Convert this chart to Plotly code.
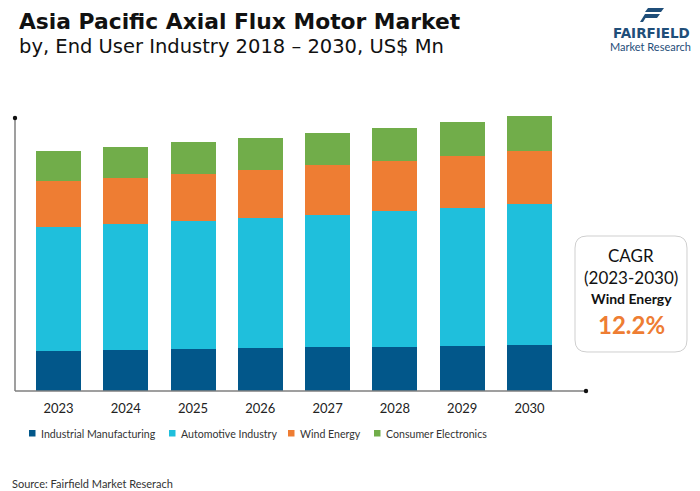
import plotly.graph_objects as go

years = ["2023", "2024", "2025", "2026", "2027", "2028", "2029", "2030"]
industrial = [40, 41, 42, 43, 44, 44, 45, 46]
automotive = [124, 126, 128, 130, 132, 136, 138, 141]
wind = [46, 46, 47, 48, 50, 50, 52, 53]
consumer = [30, 31, 32, 32, 32, 33, 34, 35]

series = [
    ("Industrial Manufacturing", industrial, "#02578A"),
    ("Automotive Industry", automotive, "#1FBFDC"),
    ("Wind Energy", wind, "#EE7D33"),
    ("Consumer Electronics", consumer, "#71AD4A"),
]

W, H = 700, 491
L, R, T, B = 15, 586, 111, 391
YMAX = 280

def px(x):
    return (x - L) / (R - L)

def py(y):
    return (B - y) / (B - T)

FONT = "Lato"
TFONT = "DejaVu Sans"
fig = go.Figure()
for name, vals, col in series:
    fig.add_trace(go.Bar(x=years, y=vals, name=name, marker=dict(color=col, line=dict(width=0)),
                         width=0.67, showlegend=False))

fig.update_layout(
    width=W, height=H, barmode="stack",
    margin=dict(l=L, r=W - R, t=T, b=H - B),
    plot_bgcolor="white", paper_bgcolor="white",
    font=dict(family=FONT, color="#222"),
    xaxis=dict(range=[-0.646, 7.84], showline=False, showgrid=False, ticks="",
               tickfont=dict(size=13, color="#222"), ticklabelstandoff=8),
    yaxis=dict(range=[0, YMAX], showgrid=False, showticklabels=False, zeroline=False, showline=False),
    bargap=0.33,
    showlegend=False,
)

axcol = "#7f7f7f"
fig.add_shape(type="line", xref="paper", yref="paper", x0=0, x1=0, y0=0, y1=py(118),
              line=dict(color=axcol, width=1.5))
fig.add_shape(type="line", xref="paper", yref="paper", x0=0, x1=1, y0=0, y1=0,
              line=dict(color=axcol, width=1.5))
for cx, cy in [(15, 118), (586, 391)]:
    r = 2.2
    fig.add_shape(type="circle", xref="paper", yref="paper",
                  x0=px(cx - r), x1=px(cx + r), y0=py(cy + r), y1=py(cy - r),
                  fillcolor="#111", line=dict(width=0))

# legend (manual)
leg_x = [29, 169, 288, 374]
for (name, vals, col), lx in zip(series, leg_x):
    fig.add_shape(type="rect", xref="paper", yref="paper",
                  x0=px(lx), x1=px(lx + 6.5), y0=py(436.5), y1=py(430),
                  fillcolor=col, line=dict(width=0))
    fig.add_annotation(text=name, xref="paper", yref="paper", x=px(lx + 10), y=py(433.5),
                       xanchor="left", yanchor="middle", showarrow=False,
                       font=dict(size=10.6, color="#333", family=FONT))

# titles
fig.add_annotation(text="<b>Asia Pacific Axial Flux Motor Market</b>", xref="paper", yref="paper",
                   x=px(17), y=py(21), xanchor="left", yanchor="middle", showarrow=False,
                   font=dict(size=21.8, color="#111", family=TFONT))
fig.add_annotation(text="by, End User Industry 2018 – 2030, US$ Mn", xref="paper", yref="paper",
                   x=px(17), y=py(47), xanchor="left", yanchor="middle", showarrow=False,
                   font=dict(size=19.5, color="#111", family=TFONT))
fig.add_annotation(text="Source: Fairfield Market Reserach", xref="paper", yref="paper",
                   x=px(10), y=py(483), xanchor="left", yanchor="middle", showarrow=False,
                   font=dict(size=11, color="#333", family=FONT))

# CAGR box
x0b, x1b, y0b, y1b, rr = 575, 687, 236, 352, 12
path = (f"M {x0b+rr},{y0b} L {x1b-rr},{y0b} Q {x1b},{y0b} {x1b},{y0b+rr} "
        f"L {x1b},{y1b-rr} Q {x1b},{y1b} {x1b-rr},{y1b} L {x0b+rr},{y1b} "
        f"Q {x0b},{y1b} {x0b},{y1b-rr} L {x0b},{y0b+rr} Q {x0b},{y0b} {x0b+rr},{y0b} Z")
def conv_path(p):
    out = []
    for t in p.split():
        if "," in t:
            a, b = t.split(",")
            out.append(f"{px(float(a)):.5f},{py(float(b)):.5f}")
        else:
            out.append(t)
    return " ".join(out)
fig.add_shape(type="path", xref="paper", yref="paper", path=conv_path(path),
              line=dict(color="#cfcfcf", width=1), fillcolor="white")
cxb = (x0b + x1b) / 2
for txt, yy, sz, col in [("CAGR", 255, 17, "#111"), ("(2023-2030)", 277, 17, "#111"),
                         ("<b>Wind Energy</b>", 298, 14, "#111"), ("<b>12.2%</b>", 324, 24, "#EE7D33")]:
    fig.add_annotation(text=txt, xref="paper", yref="paper", x=px(cxb), y=py(yy),
                       xanchor="center", yanchor="middle", showarrow=False,
                       font=dict(size=sz, color=col, family=FONT))

# logo
lc = "#1F4E79"
def poly(pts):
    return "M " + " L ".join(f"{px(a):.5f},{py(b):.5f}" for a, b in pts) + " Z"
fig.add_shape(type="path", xref="paper", yref="paper",
              path=poly([(648, 8), (664, 8), (661, 12), (645, 12)]), fillcolor=lc, line=dict(width=0))
fig.add_shape(type="path", xref="paper", yref="paper",
              path=poly([(646, 14), (660, 14), (657, 18), (643, 18)]), fillcolor=lc, line=dict(width=0))
fig.add_shape(type="path", xref="paper", yref="paper",
              path=poly([(645, 14), (648, 14), (643, 22), (640, 22)]), fillcolor=lc, line=dict(width=0))
fig.add_annotation(text="<b>FAIRFIELD</b>", xref="paper", yref="paper", x=px(651), y=py(32.5),
                   xanchor="center", yanchor="middle", showarrow=False,
                   font=dict(size=13.5, color=lc, family=TFONT))
fig.add_annotation(text="Market Research", xref="paper", yref="paper", x=px(650), y=py(46.5),
                   xanchor="center", yanchor="middle", showarrow=False,
                   font=dict(size=11, color=lc, family=FONT))

fig.write_html("out.html")
